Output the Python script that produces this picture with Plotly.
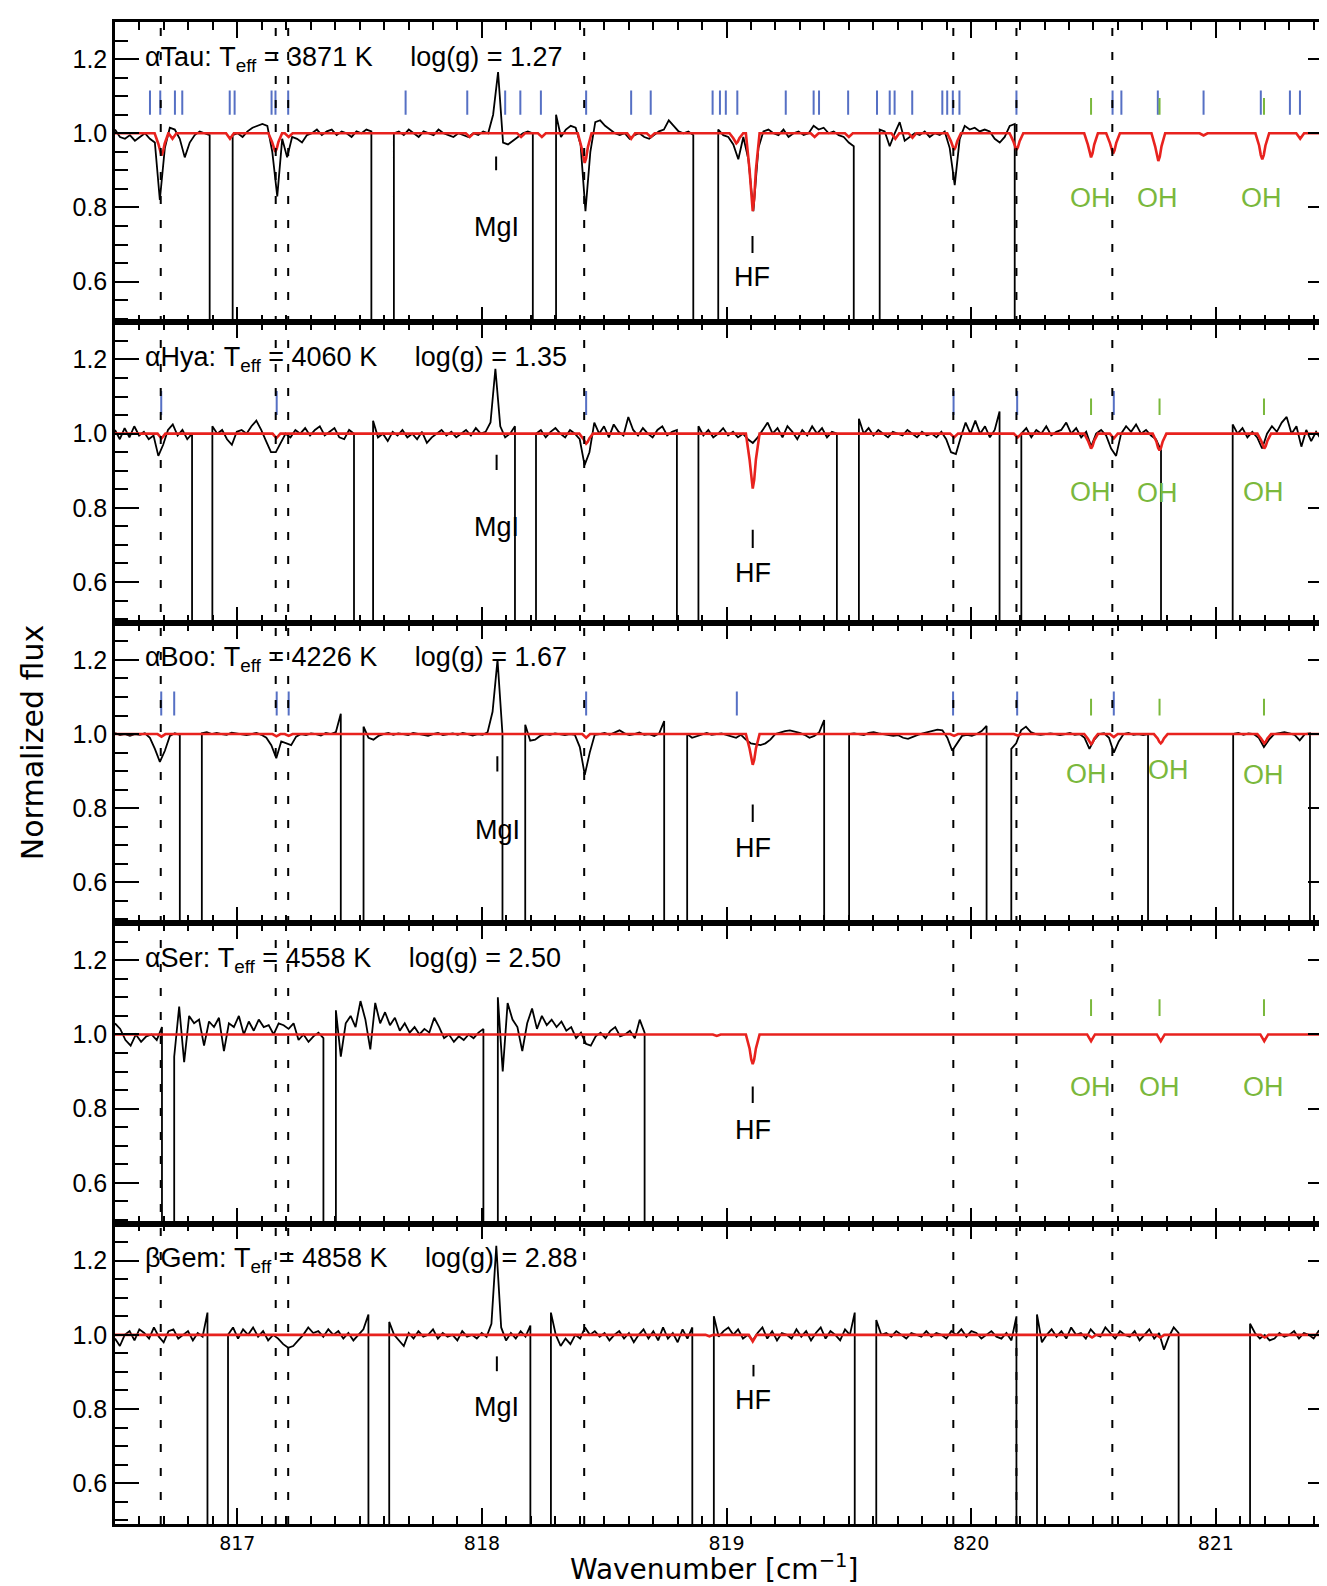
import numpy as np
import plotly.graph_objects as go
from plotly.subplots import make_subplots

# ---------------- data ----------------
star_names = ["αTau", "αHya", "αBoo", "αSer", "βGem"]
star_teff = [3871, 4060, 4226, 4558, 4858]
star_logg = ["1.27", "1.35", "1.67", "2.50", "2.88"]

dotted_lines = [816.687, 817.157, 817.208, 818.418, 819.927, 820.185, 820.577]
oh_lines = [820.49, 820.77, 821.197]

# observed spectra: (segment start, segment end, flux samples across the segment)
obs_tau = [
    (816.500, 816.887, [1.01, 0.99, 0.985, 0.995, 0.98, 0.99, 1.0, 0.985, 0.975, 0.82, 0.96, 1.015, 1.01, 0.985, 0.935, 0.975, 0.995, 1.005, 1.0, 0.995]),
    (816.981, 817.548, [0.995, 1.0, 0.99, 1.005, 1.015, 1.02, 1.025, 1.02, 0.95, 0.83, 0.985, 0.935, 0.99, 0.985, 0.975, 0.995, 1.0, 1.01, 0.995, 1.005, 1.01, 0.995, 1.005, 1.0, 0.99, 1.005, 1.0, 1.01, 1.005]),
    (817.640, 818.208, [1.0, 1.005, 0.995, 1.01, 1.0, 0.99, 1.005, 1.0, 0.995, 1.01, 1.0, 0.995, 0.99, 1.0, 0.995, 0.99, 1.0, 0.995, 1.005, 1.0, 1.05, 1.165, 0.975, 0.97, 0.98, 0.99, 1.0, 1.005, 1.0]),
    (818.303, 818.864, [1.05, 0.99, 1.01, 1.02, 1.015, 0.97, 0.79, 0.95, 1.03, 1.035, 1.02, 1.01, 1.0, 0.995, 1.0, 0.985, 0.995, 1.0, 0.99, 0.985, 0.995, 1.005, 1.01, 1.035, 1.02, 1.005, 1.0, 1.005, 0.995]),
    (818.966, 819.520, [1.01, 0.995, 0.99, 0.97, 0.93, 0.99, 0.93, 0.79, 0.96, 1.005, 1.01, 1.0, 0.995, 1.01, 0.99, 1.0, 1.005, 0.995, 1.0, 1.02, 1.01, 1.015, 1.0, 1.005, 0.995, 0.99, 0.975, 0.965]),
    (819.626, 820.178, [1.01, 1.005, 0.965, 1.0, 1.03, 0.98, 0.99, 1.0, 0.995, 1.005, 0.99, 1.0, 0.995, 1.005, 0.96, 0.86, 0.985, 1.02, 1.01, 1.015, 1.005, 1.01, 1.005, 0.985, 0.975, 0.99, 1.02, 1.025]),
]
obs_hya = [
    (816.500, 816.815, [1.01, 0.985, 1.015, 0.99, 1.02, 0.995, 1.005, 0.985, 0.995, 0.94, 0.97, 1.01, 1.025, 0.995, 1.01, 0.985, 1.0]),
    (816.898, 817.477, [1.02, 1.0, 1.01, 0.985, 0.97, 1.005, 1.01, 1.0, 1.02, 1.035, 1.01, 0.98, 0.95, 0.95, 0.975, 1.0, 0.99, 1.01, 1.0, 1.015, 0.995, 1.01, 1.02, 0.995, 1.005, 1.015, 0.99, 0.985, 1.01, 1.0]),
    (817.555, 818.135, [1.035, 0.99, 1.0, 0.98, 1.005, 0.995, 1.01, 0.99, 1.0, 0.985, 1.005, 0.975, 0.99, 1.0, 1.01, 0.995, 1.005, 0.99, 1.0, 1.01, 0.995, 1.015, 1.0, 1.005, 1.03, 1.175, 1.02, 0.99, 1.0, 1.02]),
    (818.221, 818.797, [1.0, 1.01, 0.99, 1.005, 1.015, 1.0, 0.99, 1.01, 1.0, 0.985, 0.915, 0.95, 1.03, 1.0, 1.02, 0.99, 1.025, 1.005, 0.995, 1.045, 1.01, 0.995, 1.015, 1.0, 0.99, 1.01, 1.02, 0.995, 1.005, 1.01]),
    (818.885, 819.451, [1.02, 0.995, 1.01, 0.99, 1.0, 1.015, 0.995, 1.005, 0.99, 1.0, 0.985, 0.975, 0.99, 1.01, 1.03, 1.0, 1.015, 0.99, 1.02, 1.005, 0.985, 1.01, 0.995, 1.02, 1.0, 1.015, 0.99, 1.005, 1.0]),
    (819.541, 820.116, [1.04, 1.0, 1.015, 0.995, 1.01, 1.0, 0.99, 1.005, 1.0, 0.995, 1.01, 1.0, 0.99, 1.005, 0.995, 1.0, 0.99, 1.005, 0.985, 0.95, 0.945, 0.99, 1.03, 1.0, 1.035, 1.0, 1.02, 0.99, 1.01, 1.06]),
    (820.205, 820.776, [1.0, 1.015, 0.99, 1.01, 1.0, 1.02, 0.995, 1.005, 1.01, 1.03, 1.0, 1.015, 0.99, 1.005, 0.965, 1.0, 1.01, 0.995, 0.96, 0.94, 1.0, 1.02, 1.005, 1.025, 1.0, 1.01, 0.995, 0.985, 0.955]),
    (821.069, 821.430, [1.025, 1.0, 1.015, 0.99, 1.005, 0.99, 0.96, 1.0, 1.02, 1.005, 1.03, 1.045, 1.0, 1.02, 0.965, 1.01, 0.98, 1.005, 0.985]),
    (821.440, 821.500, [1.085, 1.0, 1.01, 1.0]),
]
obs_boo = [
    (816.500, 816.765, [1.003, 0.997, 1.0, 0.995, 1.0, 0.998, 1.002, 0.99, 0.96, 0.925, 0.955, 0.995, 1.002, 0.998]),
    (816.855, 817.423, [1.002, 1.005, 1.0, 1.003, 1.0, 0.998, 1.004, 1.002, 1.0, 0.997, 1.0, 1.003, 0.998, 0.99, 0.97, 0.935, 0.98, 0.975, 0.97, 0.993, 1.0, 0.997, 1.002, 1.0, 0.996, 1.003, 1.0, 1.005, 1.055]),
    (817.516, 818.084, [1.02, 0.99, 0.985, 0.995, 1.0, 1.003, 0.998, 1.002, 1.0, 0.997, 1.003, 1.0, 0.998, 0.995, 1.0, 1.003, 0.997, 1.0, 1.002, 0.998, 1.003, 1.0, 0.996, 1.0, 0.998, 1.005, 1.06, 1.2, 1.0]),
    (818.177, 818.745, [1.025, 0.982, 0.985, 0.995, 1.0, 0.998, 1.002, 1.0, 0.997, 1.0, 0.998, 0.965, 0.89, 0.95, 0.998, 1.0, 1.003, 0.998, 1.005, 1.01, 1.002, 0.997, 1.0, 1.004, 0.998, 1.0, 0.995, 1.002, 1.035]),
    (818.839, 819.399, [1.0, 0.99, 0.995, 1.0, 1.003, 0.998, 1.0, 1.002, 0.998, 0.993, 0.99, 0.998, 0.985, 0.975, 0.972, 0.97, 0.975, 0.985, 1.0, 1.005, 1.008, 1.01, 1.007, 1.003, 0.998, 0.99, 0.995, 1.005, 1.038]),
    (819.501, 820.063, [1.0, 1.002, 1.0, 0.997, 1.003, 1.005, 1.002, 1.0, 0.998, 0.995, 0.997, 0.99, 0.987, 0.993, 0.998, 1.002, 1.005, 1.008, 1.012, 1.01, 0.99, 0.955, 0.975, 0.995, 0.998, 0.995, 1.0, 1.008, 1.022]),
    (820.164, 820.723, [0.96, 0.975, 1.01, 1.02, 1.005, 1.0, 0.998, 1.0, 1.002, 1.0, 0.997, 1.0, 1.003, 0.998, 1.0, 0.99, 0.96, 0.985, 1.0, 1.002, 0.99, 0.95, 0.98, 1.0, 1.003, 0.998, 1.0, 0.997, 1.0]),
    (821.071, 821.385, [1.0, 1.003, 0.998, 1.002, 1.0, 0.99, 0.965, 0.985, 1.0, 1.003, 1.005, 1.002, 0.998, 0.983, 1.0, 1.002]),
]
obs_ser = [
    (816.500, 816.692, [1.03, 1.015, 0.985, 0.97, 1.0, 0.98, 0.995, 1.0, 0.985, 1.02]),
    (816.742, 817.352, [0.94, 1.075, 0.925, 1.05, 1.03, 1.04, 0.97, 1.035, 1.02, 1.045, 0.955, 1.03, 1.02, 1.05, 1.0, 1.035, 1.01, 1.04, 1.02, 1.025, 1.0, 1.03, 1.025, 1.015, 1.03, 0.985, 1.0, 0.98, 0.995, 1.005, 0.99]),
    (817.403, 818.006, [1.065, 0.94, 1.03, 1.05, 1.02, 1.09, 1.04, 0.96, 1.085, 1.03, 1.06, 1.025, 1.045, 1.01, 1.03, 1.005, 1.02, 1.0, 1.015, 1.005, 1.045, 1.02, 0.99, 1.0, 0.98, 0.995, 0.985, 1.0, 0.99, 1.005, 1.015]),
    (818.065, 818.665, [1.1, 0.9, 1.085, 1.04, 1.02, 0.955, 1.03, 1.07, 1.015, 1.05, 1.025, 1.04, 1.02, 1.035, 1.01, 1.02, 0.99, 1.005, 0.975, 0.97, 0.995, 1.005, 0.99, 1.01, 1.02, 0.995, 1.0, 1.01, 0.99, 1.04, 1.005]),
]
obs_gem = [
    (816.500, 816.878, [0.99, 0.97, 1.0, 1.01, 0.985, 1.015, 1.005, 0.99, 1.02, 0.995, 0.98, 1.01, 1.015, 0.99, 1.0, 1.01, 0.985, 1.005, 0.995, 1.06]),
    (816.962, 817.536, [1.0, 1.02, 0.99, 1.015, 1.0, 1.02, 0.995, 1.01, 0.985, 1.0, 0.99, 0.975, 0.965, 0.97, 0.985, 1.0, 1.02, 1.005, 1.01, 0.995, 1.015, 1.0, 1.01, 0.99, 1.005, 0.985, 1.0, 1.015, 1.055]),
    (817.621, 818.198, [1.035, 1.0, 0.985, 0.97, 1.005, 0.99, 1.01, 0.995, 1.0, 1.015, 0.99, 1.005, 0.995, 1.0, 0.985, 1.01, 0.995, 1.0, 0.99, 1.005, 0.995, 1.03, 1.24, 1.02, 0.985, 1.005, 0.99, 1.01, 0.995, 1.025]),
    (818.282, 818.860, [1.06, 1.0, 0.97, 0.99, 0.975, 1.0, 0.99, 1.02, 1.0, 1.01, 0.995, 1.005, 0.985, 1.0, 1.01, 0.99, 1.005, 0.98, 1.0, 1.015, 0.99, 1.01, 0.985, 1.02, 0.99, 1.005, 0.98, 1.015, 0.99, 1.02]),
    (818.948, 819.524, [1.05, 0.995, 1.01, 1.02, 1.0, 1.015, 0.99, 1.0, 0.985, 1.005, 1.02, 0.99, 1.01, 0.985, 1.005, 1.0, 0.99, 1.015, 0.995, 1.01, 0.985, 1.005, 1.02, 0.99, 1.01, 1.0, 0.985, 1.015, 1.0, 1.06]),
    (819.612, 820.185, [1.04, 1.0, 1.005, 0.995, 1.01, 1.0, 0.99, 1.005, 1.0, 0.995, 1.01, 0.995, 1.005, 1.0, 0.99, 1.01, 1.0, 1.015, 0.995, 1.01, 1.005, 0.99, 1.0, 1.01, 0.995, 0.99, 1.005, 0.985, 1.05]),
    (820.269, 820.848, [1.055, 0.98, 1.0, 1.015, 0.995, 1.01, 0.99, 1.02, 1.0, 1.005, 0.99, 1.015, 1.0, 0.995, 1.02, 1.005, 0.99, 1.01, 1.0, 0.995, 1.01, 0.985, 1.0, 1.015, 0.99, 1.005, 0.96, 0.995, 1.02, 1.005]),
    (821.140, 821.500, [1.03, 1.005, 0.99, 1.0, 0.985, 0.99, 1.005, 0.995, 1.0, 1.01, 0.99, 1.005, 1.0, 0.99, 1.01, 1.0, 0.995, 1.02, 1.005]),
]

# synthetic (model) spectra: line centre, line depth
model_tau = [(816.69, 0.06), (816.735, 0.015), (816.97, 0.015), (817.155, 0.05), (817.21, 0.01),
             (817.95, 0.01), (818.16, 0.01), (818.245, 0.01), (818.42, 0.08), (818.61, 0.015),
             (818.69, 0.01), (819.04, 0.027), (819.107, 0.21), (819.36, 0.01), (819.50, 0.01),
             (819.69, 0.015), (819.76, 0.012), (819.93, 0.045), (820.185, 0.045), (820.49, 0.065),
             (820.58, 0.055), (820.765, 0.075), (820.95, 0.006), (821.19, 0.07), (821.345, 0.015)]
model_hya = [(816.69, 0.013), (817.16, 0.012), (818.426, 0.027), (819.107, 0.148), (819.93, 0.01),
             (820.19, 0.01), (820.49, 0.04), (820.583, 0.013), (820.77, 0.045), (821.198, 0.04)]
model_boo = [(816.69, 0.007), (817.16, 0.006), (817.21, 0.005), (818.426, 0.01), (819.107, 0.083),
             (819.93, 0.005), (820.19, 0.004), (820.49, 0.027), (820.583, 0.008), (820.775, 0.025),
             (821.198, 0.025)]
model_ser = [(818.96, 0.004), (819.107, 0.08), (820.49, 0.018), (820.775, 0.018), (821.198, 0.018)]
model_gem = [(818.93, 0.004), (819.107, 0.018), (820.494, 0.007), (820.773, 0.007), (821.2, 0.007)]

# identified line markers
blue_tau = [816.643, 816.685, 816.745, 816.775, 816.969, 816.989, 817.14, 817.156, 817.208, 817.688,
            817.94, 818.095, 818.157, 818.241, 818.426, 818.61, 818.69, 818.943, 818.973, 818.997,
            819.044, 819.242, 819.356, 819.378, 819.497, 819.615, 819.667, 819.687, 819.759, 819.882,
            819.902, 819.925, 819.952, 820.185, 820.578, 820.614, 820.763, 820.95, 821.184, 821.303,
            821.344]
blue_hya = [816.689, 817.161, 818.426, 819.928, 820.188, 820.583]
blue_boo = [816.689, 816.742, 817.161, 817.21, 818.426, 819.042, 819.926, 820.188, 820.583]
blue_ser = []
blue_gem = []

obs_all = [obs_tau, obs_hya, obs_boo, obs_ser, obs_gem]
model_all = [model_tau, model_hya, model_boo, model_ser, model_gem]
blue_all = [blue_tau, blue_hya, blue_boo, blue_ser, blue_gem]
has_oh = [True, True, True, True, False]

# ---------------- layout helpers ----------------
X_RANGE = [816.5, 821.475]
Y_RANGE = [0.49, 1.3]
NARROW = "Liberation Sans Narrow, Arial Narrow, Liberation Sans, Arial, sans-serif"
WIDE = "DejaVu Sans, Verdana, sans-serif"
RED = "#e8221e"
BLUE = "#5670c4"
GREEN = "#7ab83c"
TEXT_SHIFT = 8  # px, lifts the annotation box so the glyphs sit on the intended level

panel_text = [
    dict(mg=(818.058, 0.900, 0.937, 0.727), hf=(819.106, 0.677, 0.723, 0.592),
         oh_x=[820.487, 820.762, 821.188], oh_y=[0.803, 0.803, 0.803]),
    dict(mg=(818.060, 0.902, 0.943, 0.728), hf=(819.107, 0.692, 0.741, 0.604),
         oh_x=[820.486, 820.760, 821.195], oh_y=[0.822, 0.818, 0.822]),
    dict(mg=(818.063, 0.899, 0.940, 0.720), hf=(819.107, 0.763, 0.810, 0.670),
         oh_x=[820.470, 820.808, 821.195], oh_y=[0.872, 0.881, 0.868]),
    dict(mg=None, hf=(819.107, 0.815, 0.860, 0.720),
         oh_x=[820.486, 820.768, 821.195], oh_y=[0.838, 0.838, 0.838]),
    dict(mg=(818.061, 0.902, 0.942, 0.785), hf=(819.110, 0.888, 0.919, 0.803),
         oh_x=None, oh_y=None),
]


def observed_xy(segments):
    xs, ys = [], []
    for a, b, vals in segments:
        if a > X_RANGE[0] + 1e-6:
            xs.append(a); ys.append(0.0)
        xs.extend(np.linspace(a, b, len(vals)).tolist()); ys.extend(vals)
        if b < 821.49:
            xs.append(b); ys.append(0.0)
    return xs, ys


def model_xy(lines):
    xs, ys = [X_RANGE[0]], [1.0]
    for c, d in sorted(lines):
        if d >= 0.02:
            prof = [(-0.028, 0), (-0.013, 0.47), (-0.006, 0.84), (0, 1), (0.006, 0.84), (0.013, 0.47), (0.028, 0)]
        else:
            prof = [(-0.016, 0), (0, 1), (0.016, 0)]
        for o, f in prof:
            xs.append(c + o); ys.append(1 - d * f)
    xs.append(821.5); ys.append(1.0)
    return xs, ys


def tick_marks(xlist, y0, y1):
    xs, ys = [], []
    for x in xlist:
        xs += [x, x, None]; ys += [y0, y1, None]
    return xs, ys


fig = make_subplots(rows=5, cols=1, shared_xaxes=True, vertical_spacing=0)
annotations = []
shapes = []
sp = "\u00a0"

for i in range(5):
    row = i + 1
    yref = "y" if row == 1 else f"y{row}"
    xref = "x" if row == 1 else f"x{row}"
    if blue_all[i]:
        bx, by = tick_marks(blue_all[i], 1.05, 1.115)
        fig.add_trace(go.Scatter(x=bx, y=by, mode="lines", line=dict(color=BLUE, width=2),
                                 hoverinfo="skip", showlegend=False), row=row, col=1)
    if has_oh[i]:
        gx, gy = tick_marks(oh_lines, 1.05, 1.095)
        fig.add_trace(go.Scatter(x=gx, y=gy, mode="lines", line=dict(color=GREEN, width=2),
                                 hoverinfo="skip", showlegend=False), row=row, col=1)
    ox, oy = observed_xy(obs_all[i])
    fig.add_trace(go.Scatter(x=ox, y=oy, mode="lines", line=dict(color="black", width=1.8),
                             showlegend=False), row=row, col=1)
    mx, my = model_xy(model_all[i])
    fig.add_trace(go.Scatter(x=mx, y=my, mode="lines", line=dict(color=RED, width=2.6),
                             showlegend=False), row=row, col=1)

    pt = panel_text[i]
    title = (f"{star_names[i]}:{sp}T<sub>eff</sub>{sp}={sp}{star_teff[i]}{sp}K"
             f"{sp * 5}log(g){sp}={sp}{star_logg[i]}")
    annotations.append(dict(x=816.615, y=1.18, xref=xref, yref=yref, xanchor="left", yanchor="middle",
                            yshift=TEXT_SHIFT, text=title, showarrow=False,
                            font=dict(family=NARROW, size=27, color="black")))
    for key, label in (("mg", "MgI"), ("hf", "HF")):
        v = pt[key]
        if v is None:
            continue
        x, ya, yb, yt = v
        shapes.append(dict(type="line", xref=xref, yref=yref, x0=x, x1=x, y0=ya, y1=yb,
                           line=dict(color="black", width=2)))
        annotations.append(dict(x=x, y=yt, xref=xref, yref=yref, xanchor="center", yanchor="middle",
                                yshift=TEXT_SHIFT, text=label, showarrow=False,
                                font=dict(family=NARROW, size=27, color="black")))
    if pt["oh_x"]:
        for x, y in zip(pt["oh_x"], pt["oh_y"]):
            annotations.append(dict(x=x, y=y, xref=xref, yref=yref, xanchor="center", yanchor="middle",
                                    yshift=TEXT_SHIFT, text="OH", showarrow=False,
                                    font=dict(family=NARROW, size=27, color=GREEN)))

for xv in dotted_lines:
    shapes.append(dict(type="line", xref="x", yref="paper", x0=xv, x1=xv, y0=0, y1=1,
                       line=dict(color="black", width=2, dash="8px,16px"), layer="above"))

annotations.append(dict(x=0.4926, y=-0.0292, xref="paper", yref="paper", xanchor="center", yanchor="middle",
                        text="Wavenumber [cm<sup>−1</sup>]", showarrow=False,
                        font=dict(family=WIDE, size=28, color="black")))
annotations.append(dict(x=-0.0672, y=0.52, xref="paper", yref="paper", xanchor="center", yanchor="middle",
                        text="Normalized flux", textangle=-90, showarrow=False,
                        font=dict(family=WIDE, size=30, color="black")))

fig.update_xaxes(range=X_RANGE, showline=True, linewidth=2.5, linecolor="black", mirror="allticks",
                 ticks="inside", ticklen=16, tickwidth=2, tickcolor="black", tick0=817, dtick=1,
                 minor=dict(ticks="inside", ticklen=8, tickwidth=1.5, tickcolor="black", tick0=816.5, dtick=0.1,
                            showgrid=False),
                 showgrid=False, zeroline=False, showticklabels=False)
fig.update_xaxes(showticklabels=True, tickfont=dict(family=WIDE, size=19, color="black"), row=5, col=1)
fig.update_yaxes(range=Y_RANGE, showline=True, linewidth=2.5, linecolor="black", mirror="allticks",
                 ticks="inside", ticklen=24, tickwidth=2, tickcolor="black", tick0=0.6, dtick=0.2,
                 tickformat=".1f",
                 minor=dict(ticks="inside", ticklen=13, tickwidth=1.5, tickcolor="black", tick0=0.5, dtick=0.05,
                            showgrid=False),
                 showgrid=False, zeroline=False, tickfont=dict(family=NARROW, size=25, color="black"))

fig.update_layout(width=1327, height=1586, margin=dict(l=107, r=0, t=14, b=70),
                  paper_bgcolor="white", plot_bgcolor="white", showlegend=False,
                  annotations=annotations, shapes=shapes)

fig.write_html("out.html")
